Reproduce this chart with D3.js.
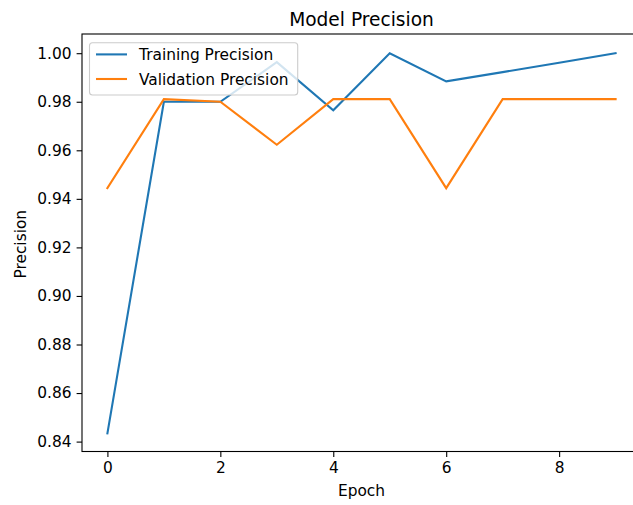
<!DOCTYPE html>
<html><head><meta charset="utf-8">
<script src="https://cdn.jsdelivr.net/npm/d3@7"></script>
<style>body{margin:0;background:#fff}svg{display:block}text{font-family:"DejaVu Sans",sans-serif;fill:#000}</style>
</head><body>
<script>
const epochs = [0,1,2,3,4,5,6,7,8,9];
const trainingPrecision = [0.8434,0.98,0.98,0.9963,0.9765,1.0,0.9884,0.9922,0.9961,1.0];
const validationPrecision = [0.9444,0.9811,0.98,0.9623,0.9811,0.9811,0.9444,0.9811,0.9811,0.9811];
const xTicks = [0,2,4,6,8];
const yTicks = [0.84,0.86,0.88,0.90,0.92,0.94,0.96,0.98,1.00];
const seriesNames = ["Training Precision","Validation Precision"];
const colors = ["#1f77b4","#ff7f0e"];

const W=633,H=505, FS=15.4;
const L=82,R=641,T=34,B=451.5;
const svg=d3.select("body").append("svg").attr("width",W).attr("height",H);
const x=d3.scaleLinear().domain([-0.45,9.45]).range([L,R]);
const y=d3.scaleLinear().domain([0.84,1.00]).range([441.6,53.2]);

const line=d3.line().x((d,i)=>x(epochs[i])).y(d=>y(d));
[trainingPrecision,validationPrecision].forEach((s,k)=>{
  svg.append("path").datum(s).attr("d",line).attr("fill","none")
    .attr("stroke",colors[k]).attr("stroke-width",2.1).attr("stroke-linecap","square");
});

const xa=svg.append("g").attr("transform",`translate(0,${B})`)
  .call(d3.axisBottom(x).tickValues(xTicks).tickSize(5.4).tickPadding(5).tickFormat(d3.format("d")));
const ya=svg.append("g").attr("transform",`translate(${L},0)`)
  .call(d3.axisLeft(y).tickValues(yTicks).tickSize(5.4).tickPadding(5).tickFormat(d3.format(".2f")));
[xa,ya].forEach(a=>{a.select(".domain").remove();a.selectAll("text").attr("font-size",FS).attr("font-family","DejaVu Sans").attr("fill","#000");a.selectAll("line").attr("stroke","#000").attr("stroke-width",1.1);});

svg.append("rect").attr("x",L).attr("y",T).attr("width",R-L).attr("height",B-T)
  .attr("fill","none").attr("stroke","#000").attr("stroke-width",1.1);

svg.append("text").attr("x",(L+R)/2).attr("y",25.5).attr("text-anchor","middle").attr("font-size",18.6).text("Model Precision");
svg.append("text").attr("x",(L+R)/2).attr("y",496).attr("text-anchor","middle").attr("font-size",FS).text("Epoch");
svg.append("text").attr("transform",`translate(26,${(T+B)/2+1.5}) rotate(-90)`).attr("text-anchor","middle").attr("font-size",FS).text("Precision");

const lg=svg.append("g");
lg.append("rect").attr("x",89.5).attr("y",42.7).attr("width",208.2).attr("height",52.3).attr("rx",3)
  .attr("fill","#fff").attr("fill-opacity",0.8).attr("stroke","#ccc").attr("stroke-width",1.1);
seriesNames.forEach((n,k)=>{
  const yy=54.4+k*24.6;
  lg.append("line").attr("x1",96).attr("x2",127).attr("y1",yy).attr("y2",yy).attr("stroke",colors[k]).attr("stroke-width",2.1);
  lg.append("text").attr("x",139).attr("y",yy+5.5).attr("font-size",FS).text(n);
});
</script>
</body></html>
